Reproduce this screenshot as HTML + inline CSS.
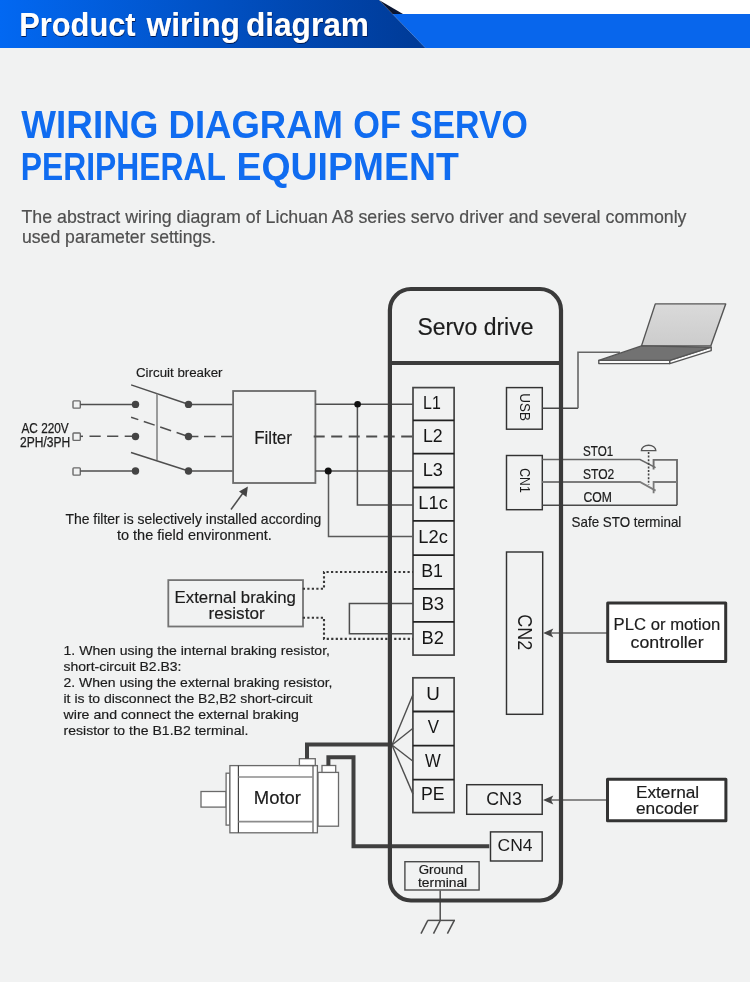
<!DOCTYPE html>
<html><head><meta charset="utf-8">
<style>
html,body{margin:0;padding:0;background:#f1f2f2;}
body{width:750px;height:982px;overflow:hidden;position:relative;}
svg{position:absolute;left:0;top:0;display:block;will-change:transform;}
text{font-family:"Liberation Sans",sans-serif;}
</style></head>
<body>
<svg width="750" height="982" viewBox="0 0 750 982">
<defs>
<linearGradient id="hg" x1="0" y1="0" x2="1" y2="0">
<stop offset="0" stop-color="#0268f2"/>
<stop offset="1" stop-color="#003a96"/>
</linearGradient>
<linearGradient id="scr" x1="0" y1="0" x2="0" y2="1">
<stop offset="0" stop-color="#dadada"/>
<stop offset="1" stop-color="#cccccc"/>
</linearGradient>
<filter id="sh" x="-5%" y="-20%" width="110%" height="140%">
<feDropShadow dx="0.4" dy="1" stdDeviation="0.5" flood-color="#00103a" flood-opacity="0.85"/>
</filter>
</defs>
<rect x="0" y="0" width="750" height="982" fill="#f1f2f2"/>
<rect x="379" y="0" width="371" height="14" fill="#ffffff"/>
<polygon points="392.6,14 750,14 750,48 425.4,48" fill="#0866ec"/>
<polygon points="0,0 379,0 425.4,48 0,48" fill="url(#hg)"/>
<polygon points="379,0 403,14 392.6,14" fill="#0a1633"/>

<g font-weight="bold" fill="#ffffff" filter="url(#sh)">
<text x="19.32" y="35.9" font-size="32.5" textLength="116.28" lengthAdjust="spacingAndGlyphs">Product</text>
<text x="146.48" y="35.9" font-size="32.5" textLength="93.55" lengthAdjust="spacingAndGlyphs">wiring</text>
<text x="245.93" y="35.9" font-size="32.5" textLength="123.05" lengthAdjust="spacingAndGlyphs">diagram</text>
</g>
<g font-weight="bold" fill="#106cf0">
<text x="21.3" y="137.8" font-size="38.8" textLength="137.08" lengthAdjust="spacingAndGlyphs">WIRING</text>
<text x="168.53" y="137.8" font-size="38.8" textLength="174.54" lengthAdjust="spacingAndGlyphs">DIAGRAM</text>
<text x="353.33" y="137.8" font-size="38.8" textLength="47.61" lengthAdjust="spacingAndGlyphs">OF</text>
<text x="409.88" y="137.8" font-size="38.8" textLength="117.97" lengthAdjust="spacingAndGlyphs">SERVO</text>
<text x="20.75" y="179.9" font-size="38.8" textLength="205.22" lengthAdjust="spacingAndGlyphs">PERIPHERAL</text>
<text x="236.48" y="179.9" font-size="38.8" textLength="222.29" lengthAdjust="spacingAndGlyphs">EQUIPMENT</text>
</g>
<g fill="#505050" stroke="#505050" stroke-width="0.2">
<text x="21.5" y="222.8" font-size="18.4" textLength="665" lengthAdjust="spacingAndGlyphs">The abstract wiring diagram of Lichuan A8 series servo driver and several commonly</text>
<text x="22" y="242.7" font-size="18.4" textLength="194" lengthAdjust="spacingAndGlyphs">used parameter settings.</text>
</g>
<g fill="none" stroke="#444" stroke-width="1.7">
<rect x="413" y="387.6" width="41.1" height="267.50"/>
<rect x="412.9" y="677.8" width="41.2" height="134.80"/>
</g>
<g fill="none" stroke="#222" stroke-width="1.8">
<line x1="413" y1="420.4" x2="454.1" y2="420.4"/>
<line x1="413" y1="453.6" x2="454.1" y2="453.6"/>
<line x1="413" y1="487.5" x2="454.1" y2="487.5"/>
<line x1="413" y1="520.8" x2="454.1" y2="520.8"/>
<line x1="413" y1="555.1" x2="454.1" y2="555.1"/>
<line x1="413" y1="588.9" x2="454.1" y2="588.9"/>
<line x1="413" y1="621.8" x2="454.1" y2="621.8"/>
<line x1="412.9" y1="711.5" x2="454.1" y2="711.5"/>
<line x1="412.9" y1="745.6" x2="454.1" y2="745.6"/>
<line x1="412.9" y1="779.6" x2="454.1" y2="779.6"/>
</g>
<g fill="#151515">
<text x="423.09" y="408.5" font-size="19" textLength="17.71" lengthAdjust="spacingAndGlyphs">L1</text>
<text x="422.94" y="442" font-size="19" textLength="19.69" lengthAdjust="spacingAndGlyphs">L2</text>
<text x="422.7" y="475.8" font-size="19" textLength="20.21" lengthAdjust="spacingAndGlyphs">L3</text>
<text x="418.29" y="509.1" font-size="19" textLength="29.51" lengthAdjust="spacingAndGlyphs">L1c</text>
<text x="418.29" y="543.4" font-size="19" textLength="29.51" lengthAdjust="spacingAndGlyphs">L2c</text>
<text x="421.13" y="576.6" font-size="19" textLength="21.83" lengthAdjust="spacingAndGlyphs">B1</text>
<text x="421.47" y="610.2" font-size="19" textLength="22.74" lengthAdjust="spacingAndGlyphs">B3</text>
<text x="421.49" y="643.8" font-size="19" textLength="22.44" lengthAdjust="spacingAndGlyphs">B2</text>
<text x="426.34" y="699.9" font-size="19" textLength="13.62" lengthAdjust="spacingAndGlyphs">U</text>
<text x="427.72" y="733.4" font-size="19" textLength="11.26" lengthAdjust="spacingAndGlyphs">V</text>
<text x="424.92" y="766.9" font-size="19" textLength="15.75" lengthAdjust="spacingAndGlyphs">W</text>
<text x="421.04" y="800.4" font-size="19" textLength="23.59" lengthAdjust="spacingAndGlyphs">PE</text>
</g>
<g fill="none" stroke="#333" stroke-width="1.45">
<rect x="506.5" y="387.6" width="35.8" height="41.6"/>
<rect x="506.5" y="455.5" width="35.8" height="54.2"/>
<rect x="506.5" y="552" width="36.2" height="162.3"/>
<rect x="466.7" y="784.7" width="75.5" height="29.6"/>
<rect x="490.5" y="831.9" width="51.7" height="29.1"/>
<rect x="404.9" y="861.7" width="74.2" height="28.3" stroke="#4a4a4a" stroke-width="1.4"/>
</g>
<g fill="#1c1c1c">
<text font-size="15.1" transform="translate(519.6,393.26) rotate(90)" x="0" y="0" textLength="27.63" lengthAdjust="spacingAndGlyphs">USB</text>
<text font-size="14.5" transform="translate(519.7,468.29) rotate(90)" x="0" y="0" textLength="24.4" lengthAdjust="spacingAndGlyphs">CN1</text>
<text font-size="19.5" transform="translate(518.1,614.2) rotate(90)" x="0" y="0" textLength="36.01" lengthAdjust="spacingAndGlyphs">CN2</text>
<text x="504" y="804.6" font-size="17.6" text-anchor="middle" textLength="35.6" lengthAdjust="spacingAndGlyphs">CN3</text>
<text x="515" y="851.3" font-size="17.4" text-anchor="middle" textLength="35" lengthAdjust="spacingAndGlyphs">CN4</text>
<text x="440.9" y="874.2" font-size="12.8" text-anchor="middle" textLength="44.5" lengthAdjust="spacingAndGlyphs" fill="#1c1c1c" stroke="#1c1c1c" stroke-width="0.18">Ground</text>
<text x="442.6" y="886.7" font-size="12.8" text-anchor="middle" textLength="49.2" lengthAdjust="spacingAndGlyphs" fill="#1c1c1c" stroke="#1c1c1c" stroke-width="0.18">terminal</text>
</g>
<g fill="none" stroke="#4e4e4e" stroke-width="1.5">
<rect x="73" y="400.85" width="7.3" height="7.3" rx="0.8" stroke="#6a6a6a" stroke-width="1.4"/>
<rect x="73" y="433.05" width="7.3" height="7.3" rx="0.8" stroke="#6a6a6a" stroke-width="1.4"/>
<rect x="73" y="467.85" width="7.3" height="7.3" rx="0.8" stroke="#6a6a6a" stroke-width="1.4"/>
<line x1="80.3" y1="404.4" x2="135.5" y2="404.4"/>
<line x1="80.3" y1="471" x2="135.5" y2="471"/>
<line x1="80.3" y1="436.3" x2="83" y2="436.3"/>
<line x1="89.5" y1="436.3" x2="135.5" y2="436.3" stroke-dasharray="11.2,6.4"/>
<line x1="131.1" y1="384.9" x2="188.3" y2="404.2"/>
<line x1="131.1" y1="417.2" x2="188.3" y2="436.5" stroke-dasharray="11.5,5.8" stroke-dashoffset="3.9"/>
<line x1="131" y1="452.5" x2="188.5" y2="471"/>
<line x1="157" y1="393.8" x2="157" y2="460" stroke="#858585" stroke-width="1.6"/>
<line x1="188.5" y1="404.4" x2="232.8" y2="404.4"/>
<line x1="188.5" y1="471" x2="232.8" y2="471"/>
<line x1="232.6" y1="436.5" x2="188.5" y2="436.5" stroke-dasharray="11.5,5.6"/>
<rect x="233.1" y="391" width="82.3" height="92" stroke="#6a6a6a" stroke-width="1.8"/>
<line x1="315.4" y1="404.2" x2="413" y2="404.2"/>
<line x1="315.4" y1="471" x2="413" y2="471"/>
<line x1="313.7" y1="436.5" x2="413" y2="436.5" stroke-dasharray="11,6.5" stroke-width="1.8"/>
<polyline points="357.4,404.2 357.4,505.1 413,505.1"/>
<polyline points="328.5,471 328.5,536.6 413,536.6" stroke="#5a5a5a"/>
<line x1="231" y1="509.5" x2="243" y2="493"/>
</g>
<g fill="#444">
<circle cx="135.5" cy="404.4" r="3.7"/><circle cx="188.5" cy="404.4" r="3.7"/>
<circle cx="135.5" cy="436.5" r="3.7"/><circle cx="188.5" cy="436.5" r="3.7"/>
<circle cx="135.5" cy="471" r="3.7"/><circle cx="188.5" cy="471" r="3.7"/>
<circle cx="357.6" cy="404.2" r="3.3" fill="#111"/>
<circle cx="328.2" cy="470.9" r="3.5" fill="#111"/>
<polygon points="247.9,486.5 246.5,497 239,491.5"/>
</g>
<g fill="#1c1c1c">
<text x="21.47" y="432.8" font-size="14.2" textLength="47.29" lengthAdjust="spacingAndGlyphs" stroke="#1c1c1c" stroke-width="0.25">AC 220V</text>
<text x="20.0" y="447.1" font-size="14.2" textLength="50.18" lengthAdjust="spacingAndGlyphs" stroke="#1c1c1c" stroke-width="0.25">2PH/3PH</text>
<text x="136" y="377.3" font-size="13.7" textLength="86.5" lengthAdjust="spacingAndGlyphs" fill="#1c1c1c" stroke="#1c1c1c" stroke-width="0.18">Circuit breaker</text>
<text x="254.2" y="444" font-size="18.6" textLength="37.8" lengthAdjust="spacingAndGlyphs" fill="#1c1c1c" stroke="#1c1c1c" stroke-width="0.18">Filter</text>
<text x="65.4" y="524" font-size="15" textLength="256" lengthAdjust="spacingAndGlyphs" fill="#1c1c1c" stroke="#1c1c1c" stroke-width="0.18">The filter is selectively installed according</text>
<text x="116.9" y="539.5" font-size="15" textLength="155" lengthAdjust="spacingAndGlyphs" fill="#1c1c1c" stroke="#1c1c1c" stroke-width="0.18">to the field environment.</text>
</g>
<g fill="none" stroke="#4e4e4e" stroke-width="1.5">
<rect x="168.3" y="580.1" width="134.7" height="46.4" stroke="#747474" stroke-width="1.8"/>
<polyline points="302.8,588.8 324,588.8 324,572 413,572" stroke-dasharray="2.2,2.3" stroke-width="2.1" stroke="#383838"/>
<polyline points="302.8,617.8 324,617.8 324,638.9 413,638.9" stroke-dasharray="2.2,2.3" stroke-width="2.1" stroke="#383838"/>
<polyline points="413,603.5 349.4,603.5 349.4,633.7 413,633.7"/>
</g>
<g fill="#1c1c1c" stroke="#1c1c1c" stroke-width="0.18">
<text x="174.6" y="602.8" font-size="17.1" textLength="121.3" lengthAdjust="spacingAndGlyphs">External braking</text>
<text x="208.5" y="619.3" font-size="17.1" textLength="56.2" lengthAdjust="spacingAndGlyphs">resistor</text>
</g>
<g fill="#1c1c1c" stroke="#1c1c1c" stroke-width="0.18">
<text x="63.5" y="654.5" font-size="13.6" textLength="266.5" lengthAdjust="spacingAndGlyphs">1. When using the internal braking resistor,</text>
<text x="63.5" y="670.5" font-size="13.6" textLength="118" lengthAdjust="spacingAndGlyphs">short-circuit B2.B3:</text>
<text x="63.5" y="686.5" font-size="13.6" textLength="269" lengthAdjust="spacingAndGlyphs">2. When using the external braking resistor,</text>
<text x="63.5" y="702.5" font-size="13.6" textLength="249" lengthAdjust="spacingAndGlyphs">it is to disconnect the B2,B2 short-circuit</text>
<text x="63.5" y="718.5" font-size="13.6" textLength="235.5" lengthAdjust="spacingAndGlyphs">wire and connect the external braking</text>
<text x="63.5" y="734.5" font-size="13.6" textLength="185" lengthAdjust="spacingAndGlyphs">resistor to the B1.B2 terminal.</text>
</g>
<g fill="none" stroke-width="1.5">
<polyline points="542.3,408.2 578,408.2" stroke="#474747"/>
<polyline points="578,408.2 578,352.2 620,352.2" stroke="#666" stroke-width="1.6"/>
<polyline points="542.3,459.6 640,459.6 655.6,467.6" stroke="#666"/>
<polyline points="653.6,469.6 653.6,459.9 677,459.9 677,505.2" stroke="#6e6e6e" stroke-width="1.9"/>
<polyline points="542.3,505.2 677,505.2" stroke="#4a4a4a" stroke-width="1.5"/>
<polyline points="542.3,482 640,482 655.6,490.6" stroke="#7c7c7c" stroke-width="1.8"/>
<polyline points="653.6,493.2 653.6,482 677,482" stroke="#7a7a7a" stroke-width="1.8"/>
<line x1="648.6" y1="452" x2="648.6" y2="485" stroke-dasharray="2,1.6" stroke-width="1.6" stroke="#444"/>
<path d="M641.4,450.6 A7.2,5.4 0 0 1 655.8,450.6 Z" stroke-width="1.4" stroke="#555"/>
<line x1="607" y1="633" x2="550" y2="633" stroke="#666"/>
<line x1="607" y1="800" x2="550" y2="800" stroke="#666"/>
</g>
<g fill="#444">
<polygon points="543.2,633 553.3,628.4 551,633 553.3,637.6"/>
<polygon points="543,800 553.3,795.4 551,800 553.3,804.6"/>
</g>
<g stroke="#555" stroke-width="1.4" stroke-linejoin="round">
<polygon points="655.3,303.9 725.7,303.9 710.8,345.9 641.5,345.9" fill="url(#scr)"/>
<polygon points="598.8,360.4 669.8,360.4 669.8,363.6 598.8,363.6" fill="#fafafa"/>
<polygon points="669.8,360.4 711.2,347.2 711.2,350.6 669.8,363.6" fill="#fafafa"/>
<polygon points="641.5,345.9 711.2,347.2 669.8,360.4 598.8,360.4" fill="#727272"/>
</g>
<g fill="#1c1c1c">
<text x="583.08" y="455.9" font-size="14.2" textLength="30.19" lengthAdjust="spacingAndGlyphs" stroke="#1c1c1c" stroke-width="0.22">STO1</text>
<text x="583.06" y="479" font-size="14.2" textLength="31.26" lengthAdjust="spacingAndGlyphs" stroke="#1c1c1c" stroke-width="0.22">STO2</text>
<text x="583.39" y="502.2" font-size="14.2" textLength="28.42" lengthAdjust="spacingAndGlyphs" stroke="#1c1c1c" stroke-width="0.22">COM</text>
<text x="571.6" y="526.8" font-size="14.4" textLength="109.7" lengthAdjust="spacingAndGlyphs" fill="#1c1c1c" stroke="#1c1c1c" stroke-width="0.18">Safe STO terminal</text>
</g>
<g fill="#ffffff" stroke="#333" stroke-width="3" stroke-linejoin="round">
<rect x="607.7" y="603.1" width="118" height="58.4"/>
<rect x="607.5" y="779.3" width="118.4" height="41.5"/>
</g>
<g fill="#1c1c1c" stroke="#1c1c1c" stroke-width="0.18">
<text x="613.6" y="630" font-size="17.1" textLength="106.6" lengthAdjust="spacingAndGlyphs">PLC or motion</text>
<text x="630.6" y="647.6" font-size="17.1" textLength="73" lengthAdjust="spacingAndGlyphs">controller</text>
<text x="635.9" y="797.9" font-size="16.3" textLength="63.3" lengthAdjust="spacingAndGlyphs">External</text>
<text x="636" y="814.2" font-size="16.3" textLength="62.5" lengthAdjust="spacingAndGlyphs">encoder</text>
</g>
<g fill="#ffffff" stroke="#6a6a6a" stroke-width="1.3">
<rect x="201" y="791.5" width="25.1" height="15.6"/>
<rect x="226.1" y="773.2" width="3.8" height="51.9"/>
<rect x="229.9" y="765.6" width="87.5" height="67.2"/>
<rect x="318" y="772.4" width="20.5" height="53.8"/>
<rect x="299.4" y="758.7" width="15.9" height="6.8"/>
<rect x="322" y="765.5" width="13.7" height="6.9"/>
<line x1="238.4" y1="765.5" x2="238.4" y2="832.8" stroke="#444" stroke-width="1.2"/>
<line x1="313" y1="765.5" x2="313" y2="832.8" stroke="#555" stroke-width="1.2"/>
<line x1="238.4" y1="777" x2="313" y2="777" stroke="#8c8c8c" stroke-width="1.6"/>
<line x1="238.4" y1="821.6" x2="313" y2="821.6" stroke="#8c8c8c" stroke-width="1.6"/>
</g>
<g fill="#1c1c1c" stroke="#1c1c1c" stroke-width="0.18"><text x="253.8" y="803.8" font-size="17.9" textLength="47.2" lengthAdjust="spacingAndGlyphs">Motor</text></g>
<g fill="none" stroke="#4e4e4e" stroke-width="1.4">
<line x1="392" y1="745" x2="413" y2="694.6"/>
<line x1="392" y1="745" x2="413" y2="728.3"/>
<line x1="392" y1="745" x2="413" y2="761.2"/>
<line x1="392" y1="745" x2="413" y2="794.1"/>
</g>
<g fill="none" stroke="#404040" stroke-width="4">
<polyline points="307,758.7 307,744.5 391,744.5"/>
<polyline points="328.4,765.5 328.4,757.3 353.5,757.3 353.5,846.2 489.3,846.2"/>
</g>
<g fill="none" stroke="#4e4e4e" stroke-width="1.5">
<line x1="440.2" y1="890.5" x2="440.2" y2="920.4"/>
<line x1="427.6" y1="920.4" x2="455" y2="920.4"/>
<line x1="427.8" y1="920.4" x2="421" y2="933.6"/>
<line x1="440.3" y1="920.4" x2="433.5" y2="933.6"/>
<line x1="454.3" y1="920.4" x2="447.4" y2="933.6"/>
</g>
<path d="M389.9,310 A21,21 0 0 1 410.9,289 L540,289 A21,21 0 0 1 561,310 L561,879.5 A21,21 0 0 1 540,900.5 L410.9,900.5 A21,21 0 0 1 389.9,879.5 Z" fill="none" stroke="#3a3a3a" stroke-width="4.2"/>
<line x1="390" y1="363" x2="561" y2="363" stroke="#3c3c3c" stroke-width="4"/>
<g fill="#1c1c1c" stroke="#1c1c1c" stroke-width="0.18"><text x="417.4" y="334.9" font-size="23.3" textLength="116" lengthAdjust="spacingAndGlyphs">Servo drive</text></g>
</svg>
</body></html>
